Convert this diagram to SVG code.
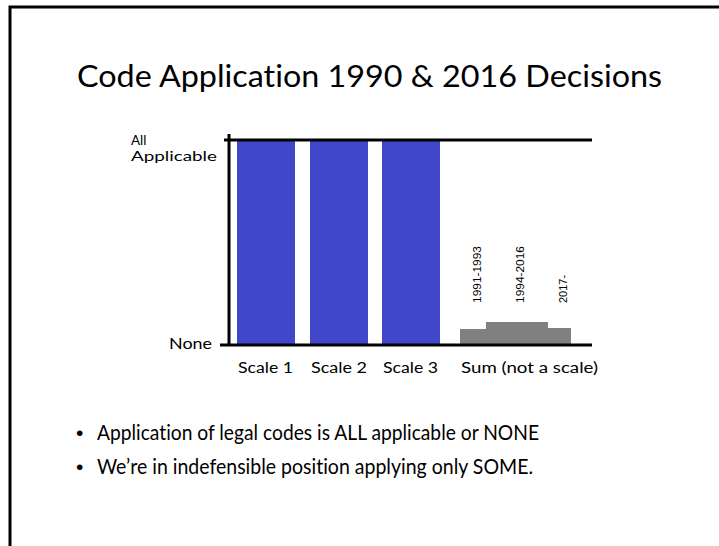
<svg xmlns="http://www.w3.org/2000/svg" width="719" height="546" viewBox="0 0 719 546">
<style>
.t{font-family:Lato,"Open Sans","Liberation Sans",sans-serif;fill:#000;font-variant-ligatures:none}
.y{font-family:"Liberation Sans",Arial,sans-serif;font-size:11px;fill:#000}
.ax{stroke:#000;stroke-width:3;fill:none}
.blue{fill:#4047C8}
.gray{fill:#808080}
.b{font-family:"Liberation Sans",Arial,sans-serif;font-size:21px;fill:#000}
</style>
<rect width="719" height="546" fill="#fff"/>
<g id="frame"><path d="M10 546 V7 H719" stroke="#000" stroke-width="3" fill="none"/></g>
<g id="title"><text class="t" x="77" y="87" font-size="30" textLength="585" lengthAdjust="spacingAndGlyphs">Code Application 1990 &amp; 2016 Decisions</text></g>
<g id="bars">
<rect class="blue" x="237" y="140" width="58" height="205"/>
<rect class="blue" x="310" y="140" width="58" height="205"/>
<rect class="blue" x="382" y="140" width="58" height="205"/>
<path class="gray" d="M460 345 V329 H486 V322 H548 V328 H571 V345 Z"/>
</g>
<g id="axes">
<line class="ax" x1="229" y1="134" x2="229" y2="346"/>
<line class="ax" x1="224" y1="140" x2="592" y2="140"/>
<line class="ax" x1="220" y1="345" x2="592" y2="345"/>
</g>
<g id="ylabels">
<text class="t" x="131" y="145" font-size="13.5">All</text>
<text class="t" x="131" y="161" font-size="13.5" textLength="86" lengthAdjust="spacingAndGlyphs">Applicable</text>
<text class="t" x="169" y="349" font-size="14.5" textLength="43" lengthAdjust="spacingAndGlyphs">None</text>
</g>
<g id="xlabels">
<text class="t" x="238" y="373" font-size="14.5" textLength="55" lengthAdjust="spacingAndGlyphs">Scale 1</text>
<text class="t" x="311" y="373" font-size="14.5" textLength="56" lengthAdjust="spacingAndGlyphs">Scale 2</text>
<text class="t" x="383" y="373" font-size="14.5" textLength="55" lengthAdjust="spacingAndGlyphs">Scale 3</text>
<text class="t" x="461" y="373" font-size="14.5" textLength="137" lengthAdjust="spacingAndGlyphs">Sum (not a scale)</text>
</g>
<g id="periods">
<text class="y" transform="translate(481 303) rotate(-90)" textLength="57" lengthAdjust="spacingAndGlyphs">1991-1993</text>
<text class="y" transform="translate(524 303) rotate(-90)" textLength="57" lengthAdjust="spacingAndGlyphs">1994-2016</text>
<text class="y" transform="translate(567 303) rotate(-90)">2017-</text>
</g>
<g id="bullets">
<text class="b" x="76" y="440">•</text>
<text class="t" x="97" y="440" font-size="21" textLength="442" lengthAdjust="spacingAndGlyphs">Application of legal codes is ALL applicable or NONE</text>
<text class="b" x="76" y="474">•</text>
<text class="t" x="97" y="474" font-size="21" textLength="436" lengthAdjust="spacingAndGlyphs">We’re in indefensible position applying only SOME.</text>
</g>
</svg>
